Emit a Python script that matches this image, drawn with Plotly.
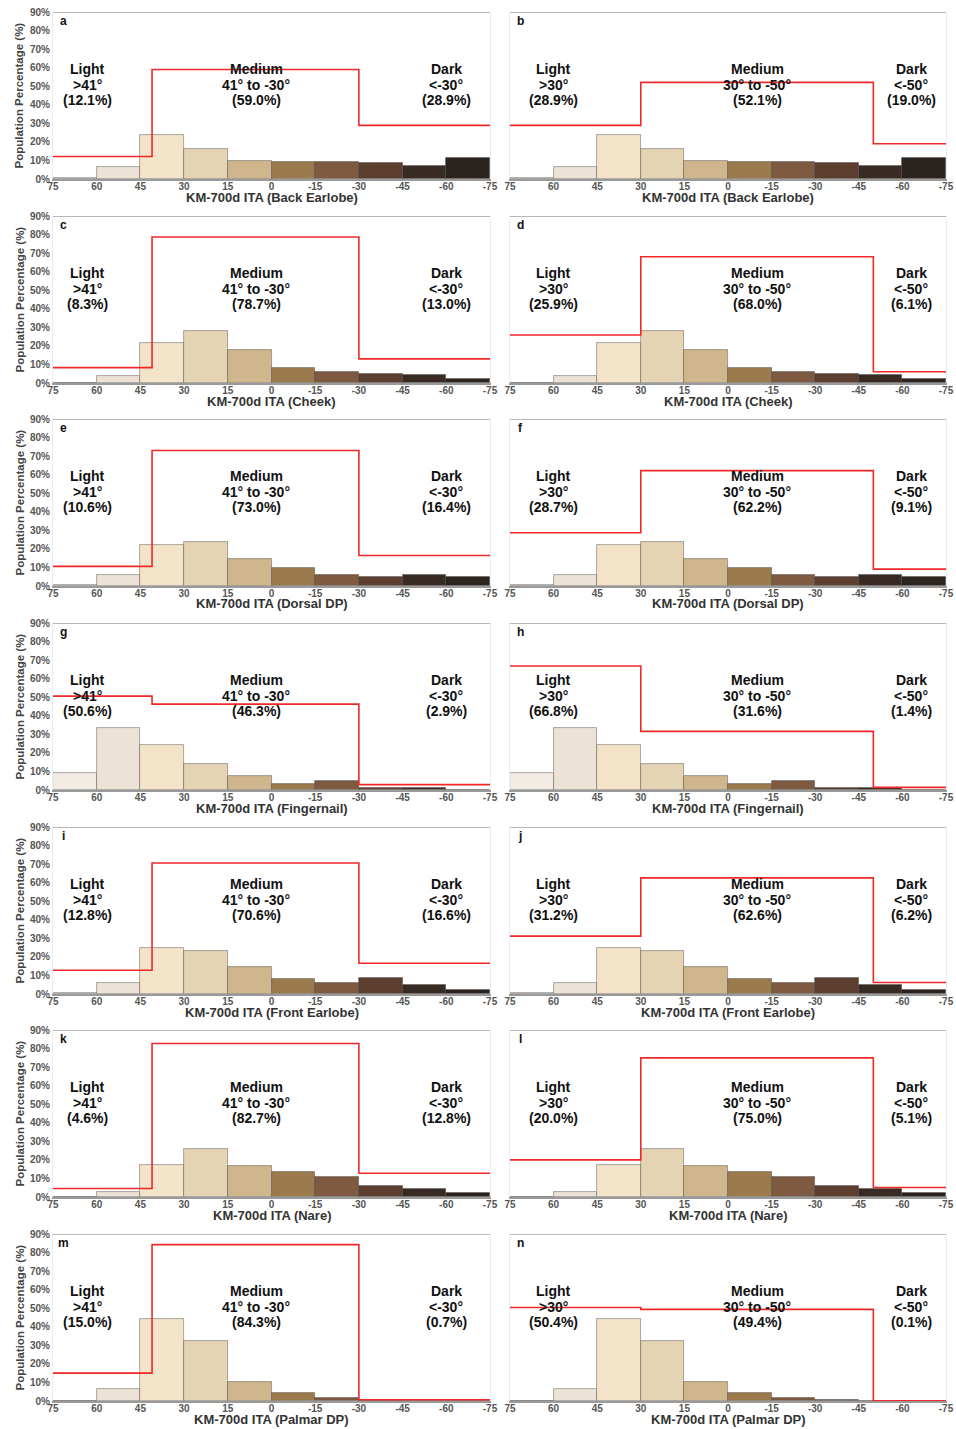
import plotly.graph_objects as go

# ---------------- data ----------------
bin_edges = [75, 60, 45, 30, 15, 0, -15, -30, -45, -60, -75]
ita_ticks = [75, 60, 45, 30, 15, 0, -15, -30, -45, -60, -75]
pct_ticks = [0, 10, 20, 30, 40, 50, 60, 70, 80, 90]

sites = ["Back Earlobe", "Cheek", "Dorsal DP", "Fingernail", "Front Earlobe", "Nare", "Palmar DP"]
letters_left = ["a", "c", "e", "g", "i", "k", "m"]
letters_right = ["b", "d", "f", "h", "j", "l", "n"]

back_earlobe = [0.5, 6.3, 23.8, 16.2, 9.5, 9.0, 9.0, 8.5, 6.8, 11.3]
cheek = [0.0, 3.8, 21.5, 28.2, 17.6, 8.0, 6.0, 4.9, 4.2, 2.0]
dorsal_dp = [0.5, 6.1, 22.0, 23.7, 14.8, 9.9, 6.1, 4.7, 6.0, 4.7]
fingernail = [9.4, 33.4, 24.2, 13.9, 7.4, 3.4, 5.1, 1.1, 0.9, 0.2]
front_earlobe = [0.3, 6.1, 24.8, 23.3, 14.6, 8.3, 5.8, 8.7, 4.7, 2.3]
nare = [0.0, 2.7, 17.0, 25.8, 16.8, 13.7, 10.6, 6.1, 4.3, 2.0]
palmar_dp = [0.0, 6.7, 44.2, 32.5, 10.5, 4.5, 1.8, 0.5, 0.05, 0.0]
site_bars = [back_earlobe, cheek, dorsal_dp, fingernail, front_earlobe, nare, palmar_dp]

# grouping thresholds (left: 41/-30, right: 30/-50)
thr_left = [41, -30]
thr_right = [30, -50]
range_left = [">41°", "41° to -30°", "<-30°"]
range_right = [">30°", "30° to -50°", "<-50°"]

group_left = [
    [12.1, 59.0, 28.9],
    [8.3, 78.7, 13.0],
    [10.6, 73.0, 16.4],
    [50.6, 46.3, 2.9],
    [12.8, 70.6, 16.6],
    [4.6, 82.7, 12.8],
    [15.0, 84.3, 0.7],
]
group_right = [
    [28.9, 52.1, 19.0],
    [25.9, 68.0, 6.1],
    [28.7, 62.2, 9.1],
    [66.8, 31.6, 1.4],
    [31.2, 62.6, 6.2],
    [20.0, 75.0, 5.1],
    [50.4, 49.4, 0.1],
]
group_names = ["Light", "Medium", "Dark"]

# ---------------- styles ----------------
bar_colors = ["#f1ebe3", "#ece3d6", "#f3e4c9", "#e4d4b4", "#d0b68c",
              "#9b7b4d", "#7d5a40", "#5c3f2e", "#382b24", "#2a231e"]
W, H = 956, 1429
col_x = [(53, 490), (510, 946)]
row_tops = [12, 216, 419, 623, 827, 1030, 1234]
plot_h = 167
label_x_left = [63, 5.3, -60]
label_x_right = [60, -10, -63]
label_line_y = [59.3, 50.9, 42.5]
FONT = "Liberation Sans, Arial, sans-serif"


def esc(s):
    return s.replace("<", "&lt;").replace(">", "&gt;")


fig = go.Figure()
layout = {}
annotations = []
shapes = []

centers = [(bin_edges[i] + bin_edges[i + 1]) / 2 for i in range(len(bin_edges) - 1)]
widths = [abs(bin_edges[i] - bin_edges[i + 1]) for i in range(len(bin_edges) - 1)]

for r in range(7):
    for c in range(2):
        n = r * 2 + c + 1
        xa = "x" if n == 1 else f"x{n}"
        ya = "y" if n == 1 else f"y{n}"
        xkey = "xaxis" if n == 1 else f"xaxis{n}"
        ykey = "yaxis" if n == 1 else f"yaxis{n}"
        x0, x1 = col_x[c]
        top = row_tops[r]
        bot = top + plot_h

        fig.add_trace(go.Bar(
            x=centers, y=site_bars[r], width=widths,
            marker=dict(color=bar_colors, line=dict(color="rgba(70,70,70,0.55)", width=0.8)),
            xaxis=xa, yaxis=ya, showlegend=False, hoverinfo="skip"))

        thr = thr_left if c == 0 else thr_right
        grp = group_left[r] if c == 0 else group_right[r]
        fig.add_trace(go.Scatter(
            x=[bin_edges[0], thr[0], thr[1], bin_edges[-1]],
            y=[grp[0], grp[1], grp[2], grp[2]],
            mode="lines", line=dict(color="#f02828", width=1.6, shape="hv"),
            xaxis=xa, yaxis=ya, showlegend=False, hoverinfo="skip"))

        layout[xkey] = dict(
            domain=[x0 / W, x1 / W], anchor=ya, range=[75, -75], automargin=False,
            tickmode="array", tickvals=ita_ticks, ticktext=[str(t) for t in ita_ticks],
            tickfont=dict(family=FONT, size=10, color="#555", weight="bold"),
            showgrid=False, zeroline=False, showline=True, linecolor="#9a9a9a",
            linewidth=1.5, ticks="", ticklen=0, ticklabelstandoff=-3)
        layout[ykey] = dict(
            domain=[1 - bot / H, 1 - top / H], anchor=xa, range=[0, 90], automargin=False,
            tickmode="array", tickvals=pct_ticks,
            ticktext=[f"{t}%" for t in pct_ticks],
            showticklabels=(c == 0),
            tickfont=dict(family=FONT, size=10, color="#555", weight="bold"),
            showgrid=False, zeroline=False, showline=True, mirror=True,
            linecolor="#ececec", linewidth=1, ticks="")

        # top frame line at 90%
        shapes.append(dict(type="line", xref=f"{xa} domain", yref=ya,
                           x0=0, x1=1, y0=90, y1=90,
                           line=dict(color="#a0a0a0", width=1.5)))

        # panel letter
        letter = letters_left[r] if c == 0 else letters_right[r]
        annotations.append(dict(text=f"<b>{letter}</b>", xref="paper", yref="paper",
                                x=(x0 + 10) / W, y=1 - (top + 9) / H,
                                xanchor="center", yanchor="middle", showarrow=False,
                                font=dict(family=FONT, size=12, color="#111")))

        # group labels
        rng = range_left if c == 0 else range_right
        lx = label_x_left if c == 0 else label_x_right
        for g in range(3):
            lines = [group_names[g], rng[g], f"({grp[g]:.1f}%)"]
            for li, txt in enumerate(lines):
                annotations.append(dict(text=f"<b>{esc(txt)}</b>", xref=xa, yref=ya,
                                        x=lx[g], y=label_line_y[li],
                                        xanchor="center", yanchor="middle", showarrow=False,
                                        font=dict(family=FONT, size=14, color="#111")))

        # x axis title
        annotations.append(dict(text=f"<b>KM-700d ITA ({sites[r]})</b>", xref="paper", yref="paper",
                                x=((x0 + x1) / 2) / W, y=1 - (bot + 18) / H,
                                xanchor="center", yanchor="middle", showarrow=False,
                                font=dict(family=FONT, size=13, color="#333")))

        # y axis title (left column only)
        if c == 0:
            annotations.append(dict(text="<b>Population Percentage (%)</b>", xref="paper", yref="paper",
                                    x=19 / W, y=1 - ((top + bot) / 2) / H, textangle=-90,
                                    xanchor="center", yanchor="middle", showarrow=False,
                                    font=dict(family=FONT, size=11.5, color="#444")))

fig.update_layout(**layout)
fig.update_layout(
    width=W, height=H, margin=dict(l=0, r=0, t=0, b=0, autoexpand=False),
    paper_bgcolor="white", plot_bgcolor="white",
    bargap=0, annotations=annotations, shapes=shapes,
    font=dict(family=FONT))

fig.write_html("out.html")
